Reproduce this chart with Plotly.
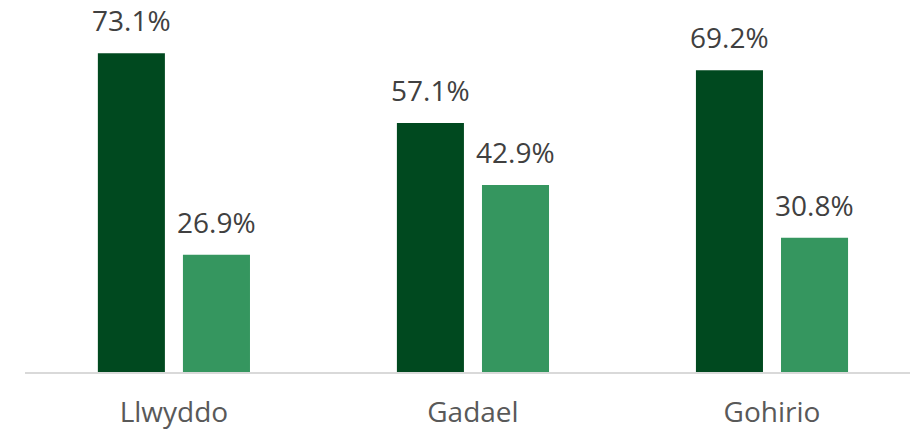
import plotly.graph_objects as go

categories = ["Llwyddo", "Gadael", "Gohirio"]
series_a = [73.1, 57.1, 69.2]
series_b = [26.9, 42.9, 30.8]
colors = ["#00491F", "#35965F"]

fig = go.Figure()
for vals, col in zip([series_a, series_b], colors):
    fig.add_trace(go.Bar(x=categories, y=vals, marker=dict(color=col, line=dict(width=0)),
                         cliponaxis=False))

label_font = dict(family="Open Sans", size=28, color="#404040")
for vals, shift in zip([series_a, series_b], [-42.5, 42.5]):
    for c, v in zip(categories, vals):
        fig.add_annotation(x=c, y=v, text=f"{v:.1f}%", showarrow=False,
                           xshift=shift, yshift=12, yanchor="bottom",
                           font=label_font)

fig.update_layout(
    width=910, height=429,
    margin=dict(l=25, r=0, t=0, b=57),
    paper_bgcolor="white", plot_bgcolor="white",
    barmode="group", bargap=0.431, bargroupgap=0.212,
    showlegend=False,
)
fig.update_xaxes(range=[-0.498, 2.4615], showline=True, linecolor="#D9D9D9", linewidth=1.5,
                 ticks="", tickfont=dict(family="Open Sans", size=28, color="#595959"),
                 ticklabelstandoff=15, automargin=False)
fig.update_yaxes(range=[0, 85.3], visible=False, automargin=False)

fig.write_html("out.html", config={"displayModeBar": False},
               post_script="document.body.style.margin='0';document.body.style.overflow='hidden';")
